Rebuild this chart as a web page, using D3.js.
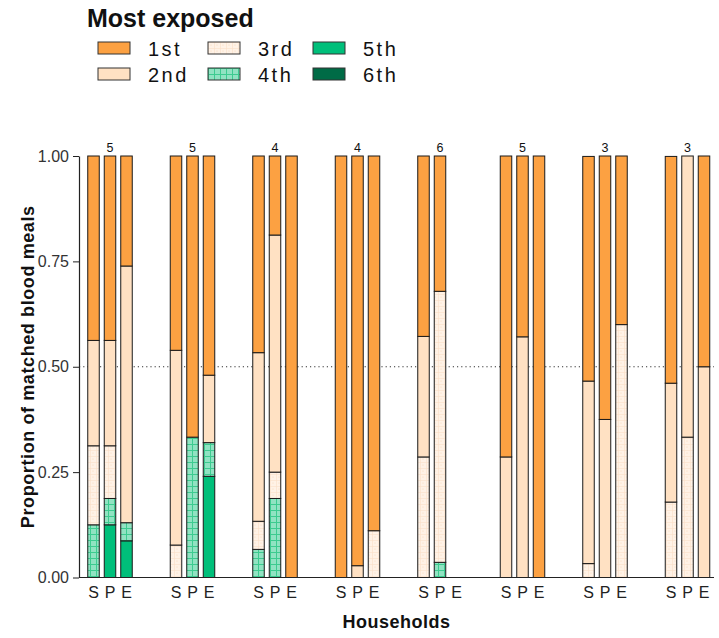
<!DOCTYPE html>
<html><head><meta charset="utf-8">
<script src="https://cdn.jsdelivr.net/npm/d3@7"></script>
<style>body{margin:0;background:#fff}svg{display:block;font-family:"Liberation Sans",Arial,sans-serif}</style>
</head><body><svg id="c" width="719" height="638"></svg>
<script>
// ---- data ----
const households = ["H1","H2","H3","H4","H5","H6","H7","H8"];
const counts = [5,5,4,4,6,5,3,3];
const sources = ["S","P","E"];
const ranks = ["1st","2nd","3rd","4th","5th","6th"];
const yTicks = [0,0.25,0.5,0.75,1];
// values ordered H1:S,P,E, H2:S,P,E, ... ; null = no bar
const first  = [.4375,.4375,.261, .462,.667,.52, .467,.1875,1, 1,.972,.889, .428,.321,null, .714,.429,1, .533,.625,.4, .538,0,.5];
const second = [.25,.25,.609, .462,0,.16, .4,.5625,0, 0,.028,0, .286,0,null, .286,.571,0, .433,.375,0, .282,.667,.5];
const third  = [.1875,.125,0, .077,0,0, .0667,.0625,0, 0,0,.111, .286,.643,null, 0,0,0, .033,0,.6, .179,.333,0];
const fourth = [.125,.0625,.043, 0,.333,.08, .0667,.1875,0, 0,0,0, 0,.036,null, 0,0,0, 0,0,0, 0,0,0];
const fifth  = [0,.125,.087, 0,0,.24, 0,0,0, 0,0,0, 0,0,null, 0,0,0, 0,0,0, 0,0,0];
const sixth  = [0,0,0, 0,0,0, 0,0,0, 0,0,0, 0,0,null, 0,0,0, 0,0,0, 0,0,0];

const series = {"1st":first,"2nd":second,"3rd":third,"4th":fourth,"5th":fifth,"6th":sixth};

const svg = d3.select("#c");
const defs = svg.append("defs");
// pattern for 3rd
const p3 = defs.append("pattern").attr("id","p3").attr("patternUnits","userSpaceOnUse").attr("width",6).attr("height",6);
p3.append("rect").attr("width",6).attr("height",6).attr("fill","#FFF2E6");
p3.append("path").attr("d","M0,0.5H6M0.5,0V6").attr("stroke","#FADFC8").attr("stroke-width",0.6);
p3.append("circle").attr("cx",3).attr("cy",3).attr("r",0.6).attr("fill","#F8D8BA");
// pattern for 4th
const p4 = defs.append("pattern").attr("id","p4").attr("patternUnits","userSpaceOnUse").attr("width",6).attr("height",6);
p4.append("rect").attr("width",6).attr("height",6).attr("fill","#90E3C2");
p4.append("path").attr("d","M0,0.5H6M0.5,0V6").attr("stroke","#3DCB90").attr("stroke-width",1);

const color = d3.scaleOrdinal().domain(ranks)
  .range(["#FCA142","#FFE1C3","url(#p3)","url(#p4)","#00BF7A","#006B46"]);

const x0 = 79, x1 = 714, yTop = 156, yBot = 577.5;
const y = d3.scaleLinear().domain([0,1]).range([yBot,yTop]);
const xg = d3.scalePoint().domain(households).range([110,687.5]);
const xs = d3.scalePoint().domain(sources).range([-16.5,16.5]);
const bw = 11.5;

// dotted 0.5 line
svg.append("line").attr("x1",x0).attr("x2",x1).attr("y1",y(0.5)).attr("y2",y(0.5))
  .attr("stroke","#333").attr("stroke-width",1).attr("stroke-dasharray","1.2,3");

// bars
const bars = [];
households.forEach((h,gi)=>{
  sources.forEach((s,si)=>{
    const i = gi*3+si;
    if (first[i]===null) return;
    let acc = 0;
    ranks.slice().reverse().forEach(r=>{
      const v = series[r][i];
      if (v>0){ bars.push({h,s,r,y0:acc,y1:acc+v}); acc+=v; }
    });
  });
});
svg.append("g").selectAll("rect").data(bars).join("rect")
  .attr("x",d=>xg(d.h)+xs(d.s)-bw/2).attr("width",bw)
  .attr("y",d=>y(Math.min(1,d.y1))).attr("height",d=>y(d.y0)-y(Math.min(1,d.y1)))
  .attr("fill",d=>color(d.r)).attr("stroke","#1a1a1a").attr("stroke-width",1);

// counts
svg.append("g").selectAll("text").data(households).join("text")
  .attr("x",h=>xg(h)).attr("y",yTop-4).attr("text-anchor","middle")
  .attr("font-size",12.5).attr("fill","#111").text((h,i)=>counts[i]);

// y axis
const ya = svg.append("g").attr("transform",`translate(${x0},0)`)
  .call(d3.axisLeft(y).tickValues(yTicks).tickFormat(d3.format(".2f")).tickSize(6).tickPadding(4).tickSizeOuter(0));
ya.select(".domain").attr("stroke","#222").attr("stroke-width",1.2);
ya.selectAll(".tick line").attr("stroke","#222");
ya.selectAll(".tick text").attr("font-size",16).attr("fill","#333").attr("font-family","Liberation Sans, Arial, sans-serif");

// x axis line
svg.append("line").attr("x1",x0).attr("x2",x1).attr("y1",yBot).attr("y2",yBot).attr("stroke","#222").attr("stroke-width",1.2);
// S P E labels
const lbl = [];
households.forEach(h=>sources.forEach(s=>lbl.push({h,s})));
svg.append("g").selectAll("text").data(lbl).join("text")
  .attr("x",d=>xg(d.h)+xs(d.s)).attr("y",598).attr("text-anchor","middle")
  .attr("font-size",16).attr("fill","#222").text(d=>d.s);

// axis titles
svg.append("text").attr("x",(x0+x1)/2).attr("y",628).attr("text-anchor","middle")
  .attr("font-size",18).attr("letter-spacing",0.5).attr("font-weight","bold").attr("fill","#111").text("Households");
svg.append("text").attr("transform",`translate(34,${(yTop+yBot)/2}) rotate(-90)`).attr("text-anchor","middle")
  .attr("font-size",18).attr("letter-spacing",0.6).attr("font-weight","bold").attr("fill","#111").text("Proportion of matched blood meals");

// legend
svg.append("text").attr("x",87).attr("y",27).attr("font-size",25).attr("font-weight","bold").attr("fill","#111").text("Most exposed");
const legX = [98,208,313], legY = [42,68];
const lg = svg.append("g").selectAll("g").data(ranks).join("g")
  .attr("transform",(r,i)=>`translate(${legX[Math.floor(i/2)]},${legY[i%2]})`);
lg.append("rect").attr("width",32).attr("height",12).attr("fill",r=>color(r)).attr("stroke","#333").attr("stroke-width",1);
lg.append("text").attr("x",50).attr("y",13.5).attr("font-size",20).attr("letter-spacing",2.5).attr("fill","#111").text(r=>r);
</script></body></html>
